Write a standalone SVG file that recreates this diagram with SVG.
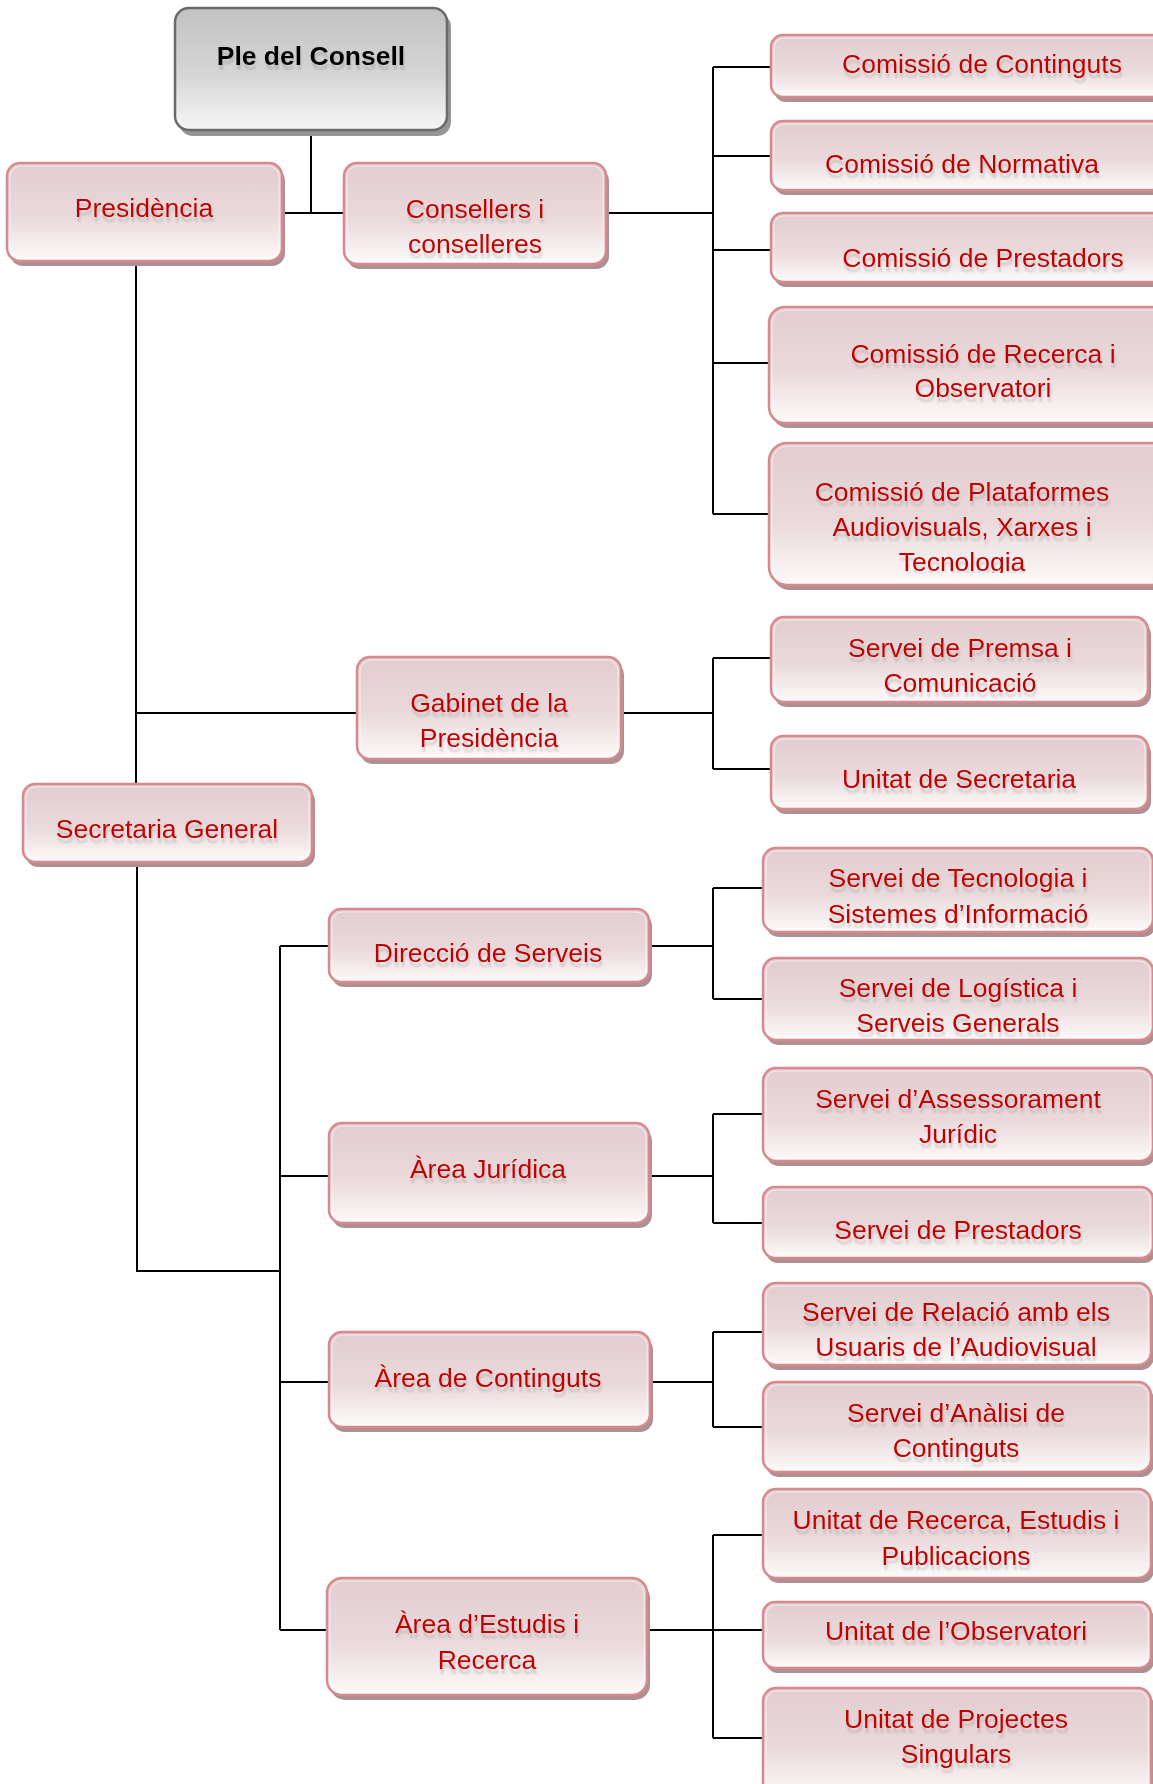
<svg xmlns="http://www.w3.org/2000/svg" width="1153" height="1784" viewBox="0 0 1153 1784">
<defs>
<linearGradient id="gp" x1="0" y1="0" x2="0" y2="1">
<stop offset="0" stop-color="#e2cdd0"/>
<stop offset="0.55" stop-color="#ead9db"/>
<stop offset="1" stop-color="#fdfafa"/>
</linearGradient>
<linearGradient id="gg" x1="0" y1="0" x2="0" y2="1">
<stop offset="0" stop-color="#c2c2c2"/>
<stop offset="0.55" stop-color="#d6d6d6"/>
<stop offset="1" stop-color="#f6f6f6"/>
</linearGradient>
<filter id="ts" x="-5%" y="-30%" width="110%" height="180%">
<feOffset in="SourceAlpha" dx="1" dy="5" result="o"/>
<feGaussianBlur in="o" stdDeviation="1.2" result="b"/>
<feFlood flood-color="#8a8a8a" flood-opacity="0.35"/>
<feComposite in2="b" operator="in" result="s"/>
<feMerge><feMergeNode in="s"/><feMergeNode in="SourceGraphic"/></feMerge>
</filter>
<filter id="bs" x="-5%" y="-10%" width="110%" height="130%">
<feGaussianBlur stdDeviation="0.7"/>
</filter>
<clipPath id="clipPlat"><rect x="760" y="440" width="400" height="133"/></clipPath>
</defs>
<style>
.sh{fill:#ad9093;filter:url(#bs)}
.shg{fill:#959595;filter:url(#bs)}
.bx{fill:url(#gp);stroke:#d8898d;stroke-width:2.5}
.bg{fill:url(#gg);stroke:#6a6a6a;stroke-width:2.5}
.hl{fill:none;stroke:#ffffff;stroke-opacity:0.6;stroke-width:1}
.t{font-family:"Liberation Sans",Arial,sans-serif;font-size:26.5px;fill:#c00000;text-anchor:middle;filter:url(#ts)}
.tb{font-family:"Liberation Sans",Arial,sans-serif;font-size:26.5px;font-weight:bold;fill:#000000;text-anchor:middle;filter:url(#ts)}
.c{fill:none;stroke:#000000;stroke-width:2}
</style>
<rect width="1153" height="1784" fill="#ffffff"/>
<g id="connectors">
<path class="c" d="M311 130 V213 M282 213 H344"/>
<path class="c" d="M606 213 H713 M713 67 V514 M713 67 H771 M713 156 H771 M713 250 H771 M713 363 H769 M713 514 H769"/>
<path class="c" d="M136 261 V784 M136 713 H357"/>
<path class="c" d="M621 713 H713 M713 658 V769 M713 658 H771 M713 769 H771"/>
<path class="c" d="M137 862 V1271 H280 M280 946 V1630 M280 946 H329 M280 1176 H329 M280 1382 H329 M280 1630 H327"/>
<path class="c" d="M649 946 H713 M713 888 V999 M713 888 H763 M713 999 H763"/>
<path class="c" d="M649 1176 H713 M713 1114 V1223 M713 1114 H763 M713 1223 H763"/>
<path class="c" d="M650 1382 H713 M713 1332 V1427 M713 1332 H763 M713 1427 H763"/>
<path class="c" d="M647 1630 H763 M713 1535 V1738 M713 1535 H763 M713 1738 H763"/>
</g>
<g id="ple">
<rect class="shg" x="179" y="13" width="272" height="123" rx="14"/>
<rect class="bg" x="175" y="8" width="272" height="122" rx="14"/>
<text class="tb" x="311" y="65">Ple del Consell</text>
</g>
<g id="presidencia">
<rect class="sh" x="10" y="168" width="275" height="98" rx="13"/>
<rect class="bx" x="7" y="163" width="275" height="98" rx="13"/>
<rect class="hl" x="10" y="166" width="269" height="92" rx="11"/>
<text class="t" x="144" y="217">Presidència</text>
</g>
<g id="consellers">
<rect class="sh" x="347" y="168" width="262" height="101" rx="13"/>
<rect class="bx" x="344" y="163" width="262" height="101" rx="13"/>
<rect class="hl" x="347" y="166" width="256" height="95" rx="11"/>
<text class="t" x="475" y="218">Consellers i</text>
<text class="t" x="475" y="253">conselleres</text>
</g>
<g id="com-continguts">
<rect class="sh" x="774" y="40" width="420" height="62" rx="12"/>
<rect class="bx" x="771" y="35" width="420" height="62" rx="12"/>
<rect class="hl" x="774" y="38" width="414" height="56" rx="10"/>
<text class="t" x="982" y="73">Comissió de Continguts</text>
</g>
<g id="com-normativa">
<rect class="sh" x="774" y="126" width="420" height="69" rx="12"/>
<rect class="bx" x="771" y="121" width="420" height="69" rx="12"/>
<rect class="hl" x="774" y="124" width="414" height="63" rx="10"/>
<text class="t" x="962" y="173">Comissió de Normativa</text>
</g>
<g id="com-prestadors">
<rect class="sh" x="774" y="218" width="420" height="69" rx="12"/>
<rect class="bx" x="771" y="213" width="420" height="69" rx="12"/>
<rect class="hl" x="774" y="216" width="414" height="63" rx="10"/>
<text class="t" x="983" y="267">Comissió de Prestadors</text>
</g>
<g id="com-recerca">
<rect class="sh" x="772" y="312" width="420" height="116" rx="16"/>
<rect class="bx" x="769" y="307" width="420" height="116" rx="16"/>
<rect class="hl" x="772" y="310" width="414" height="110" rx="14"/>
<text class="t" x="983" y="363">Comissió de Recerca i</text>
<text class="t" x="983" y="397">Observatori</text>
</g>
<g id="com-plataformes">
<rect class="sh" x="772" y="448" width="420" height="142" rx="18"/>
<rect class="bx" x="769" y="443" width="420" height="142" rx="18"/>
<rect class="hl" x="772" y="446" width="414" height="136" rx="16"/>
<g clip-path="url(#clipPlat)">
<text class="t" x="962" y="501">Comissió de Plataformes</text>
<text class="t" x="962" y="536">Audiovisuals, Xarxes i</text>
<text class="t" x="962" y="571">Tecnologia</text>
</g>
</g>
<g id="gabinet">
<rect class="sh" x="360" y="662" width="264" height="102" rx="13"/>
<rect class="bx" x="357" y="657" width="264" height="102" rx="13"/>
<rect class="hl" x="360" y="660" width="258" height="96" rx="11"/>
<text class="t" x="489" y="712">Gabinet de la</text>
<text class="t" x="489" y="747">Presidència</text>
</g>
<g id="premsa">
<rect class="sh" x="774" y="622" width="377" height="85" rx="13"/>
<rect class="bx" x="771" y="617" width="377" height="85" rx="13"/>
<rect class="hl" x="774" y="620" width="371" height="79" rx="11"/>
<text class="t" x="960" y="657">Servei de Premsa i</text>
<text class="t" x="960" y="692">Comunicació</text>
</g>
<g id="unitat-secretaria">
<rect class="sh" x="774" y="741" width="377" height="73" rx="12"/>
<rect class="bx" x="771" y="736" width="377" height="73" rx="12"/>
<rect class="hl" x="774" y="739" width="371" height="67" rx="10"/>
<text class="t" x="959" y="788">Unitat de Secretaria</text>
</g>
<g id="secretaria-general">
<rect class="sh" x="26" y="789" width="289" height="78" rx="12"/>
<rect class="bx" x="23" y="784" width="289" height="78" rx="12"/>
<rect class="hl" x="26" y="787" width="283" height="72" rx="10"/>
<text class="t" x="167" y="838">Secretaria General</text>
</g>
<g id="direccio">
<rect class="sh" x="332" y="914" width="320" height="73" rx="12"/>
<rect class="bx" x="329" y="909" width="320" height="73" rx="12"/>
<rect class="hl" x="332" y="912" width="314" height="67" rx="10"/>
<text class="t" x="488" y="962">Direcció de Serveis</text>
</g>
<g id="tecnologia">
<rect class="sh" x="766" y="853" width="390" height="84" rx="13"/>
<rect class="bx" x="763" y="848" width="390" height="84" rx="13"/>
<rect class="hl" x="766" y="851" width="384" height="78" rx="11"/>
<text class="t" x="958" y="887">Servei de Tecnologia i</text>
<text class="t" x="958" y="923">Sistemes d’Informació</text>
</g>
<g id="logistica">
<rect class="sh" x="766" y="963" width="390" height="82" rx="13"/>
<rect class="bx" x="763" y="958" width="390" height="82" rx="13"/>
<rect class="hl" x="766" y="961" width="384" height="76" rx="11"/>
<text class="t" x="958" y="997">Servei de Logística i</text>
<text class="t" x="958" y="1032">Serveis Generals</text>
</g>
<g id="area-juridica">
<rect class="sh" x="332" y="1128" width="320" height="100" rx="13"/>
<rect class="bx" x="329" y="1123" width="320" height="100" rx="13"/>
<rect class="hl" x="332" y="1126" width="314" height="94" rx="11"/>
<text class="t" x="488" y="1178">Àrea Jurídica</text>
</g>
<g id="assessorament">
<rect class="sh" x="766" y="1073" width="390" height="93" rx="13"/>
<rect class="bx" x="763" y="1068" width="390" height="93" rx="13"/>
<rect class="hl" x="766" y="1071" width="384" height="87" rx="11"/>
<text class="t" x="958" y="1108">Servei d’Assessorament</text>
<text class="t" x="958" y="1143">Jurídic</text>
</g>
<g id="servei-prestadors">
<rect class="sh" x="766" y="1192" width="390" height="71" rx="12"/>
<rect class="bx" x="763" y="1187" width="390" height="71" rx="12"/>
<rect class="hl" x="766" y="1190" width="384" height="65" rx="10"/>
<text class="t" x="958" y="1239">Servei de Prestadors</text>
</g>
<g id="area-continguts">
<rect class="sh" x="332" y="1337" width="321" height="95" rx="13"/>
<rect class="bx" x="329" y="1332" width="321" height="95" rx="13"/>
<rect class="hl" x="332" y="1335" width="315" height="89" rx="11"/>
<text class="t" x="488" y="1387">Àrea de Continguts</text>
</g>
<g id="relacio">
<rect class="sh" x="766" y="1288" width="388" height="82" rx="13"/>
<rect class="bx" x="763" y="1283" width="388" height="82" rx="13"/>
<rect class="hl" x="766" y="1286" width="382" height="76" rx="11"/>
<text class="t" x="956" y="1321">Servei de Relació amb els</text>
<text class="t" x="956" y="1356">Usuaris de l’Audiovisual</text>
</g>
<g id="analisi">
<rect class="sh" x="766" y="1387" width="388" height="90" rx="13"/>
<rect class="bx" x="763" y="1382" width="388" height="90" rx="13"/>
<rect class="hl" x="766" y="1385" width="382" height="84" rx="11"/>
<text class="t" x="956" y="1422">Servei d’Anàlisi de</text>
<text class="t" x="956" y="1457">Continguts</text>
</g>
<g id="area-estudis">
<rect class="sh" x="330" y="1583" width="320" height="117" rx="15"/>
<rect class="bx" x="327" y="1578" width="320" height="117" rx="15"/>
<rect class="hl" x="330" y="1581" width="314" height="111" rx="13"/>
<text class="t" x="487" y="1633">Àrea d’Estudis i</text>
<text class="t" x="487" y="1669">Recerca</text>
</g>
<g id="unitat-recerca">
<rect class="sh" x="766" y="1494" width="388" height="89" rx="13"/>
<rect class="bx" x="763" y="1489" width="388" height="89" rx="13"/>
<rect class="hl" x="766" y="1492" width="382" height="83" rx="11"/>
<text class="t" x="956" y="1529">Unitat de Recerca, Estudis i</text>
<text class="t" x="956" y="1565">Publicacions</text>
</g>
<g id="unitat-observatori">
<rect class="sh" x="766" y="1607" width="388" height="66" rx="12"/>
<rect class="bx" x="763" y="1602" width="388" height="66" rx="12"/>
<rect class="hl" x="766" y="1605" width="382" height="60" rx="10"/>
<text class="t" x="956" y="1640">Unitat de l’Observatori</text>
</g>
<g id="unitat-projectes">
<rect class="sh" x="766" y="1693" width="388" height="110" rx="13"/>
<rect class="bx" x="763" y="1688" width="388" height="110" rx="13"/>
<rect class="hl" x="766" y="1691" width="382" height="104" rx="11"/>
<text class="t" x="956" y="1728">Unitat de Projectes</text>
<text class="t" x="956" y="1763">Singulars</text>
</g>
</svg>
